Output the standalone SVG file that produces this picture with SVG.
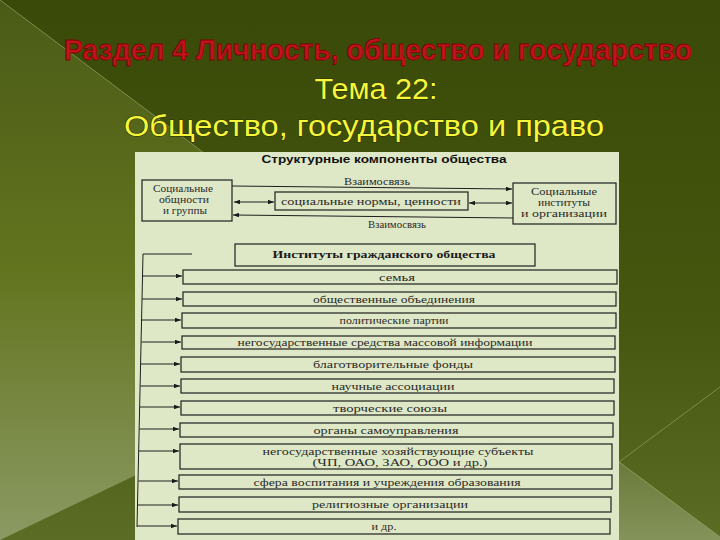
<svg xmlns="http://www.w3.org/2000/svg" width="720" height="540" viewBox="0 0 720 540">
<defs>
<linearGradient id="bg" x1="0" y1="0" x2="0" y2="1">
<stop offset="0" stop-color="#394a09"/>
<stop offset="0.6" stop-color="#46570f"/>
<stop offset="1" stop-color="#5b6c25"/>
</linearGradient>
<linearGradient id="lf" x1="0" y1="0" x2="0" y2="1">
<stop offset="0" stop-color="#4a5b17"/>
<stop offset="0.5" stop-color="#63741f"/>
<stop offset="1" stop-color="#8b9a63"/>
</linearGradient>
<linearGradient id="rb" x1="0" y1="0" x2="0" y2="1">
<stop offset="0" stop-color="#6a7a3a"/>
<stop offset="1" stop-color="#84935a"/>
</linearGradient>
<marker id="ah" viewBox="0 0 8 6" refX="8" refY="3" markerWidth="6" markerHeight="4.5" orient="auto-start-reverse" markerUnits="userSpaceOnUse">
<path d="M0,0 L8,3 L0,6 Z" fill="#1a1a1a"/>
</marker>
<style>
.red{font-family:"Liberation Sans",Arial,sans-serif;font-weight:bold;font-size:26px;fill:#c4121c;stroke:#7a0606;stroke-width:0.7}
.yel{font-family:"Liberation Sans",Arial,sans-serif;font-size:29px;fill:#f6f63a;stroke:#2a3300;stroke-width:1.2;paint-order:stroke}
.box{fill:none;stroke:#1e1e1e;stroke-width:1.2}
.t{font-family:"Liberation Serif","Times New Roman",serif;font-size:10.5px;fill:#2a2a2a;text-anchor:middle}
.tb{font-family:"Liberation Serif","Times New Roman",serif;font-size:10.5px;font-weight:bold;fill:#1a1a1a;text-anchor:middle}
.tx{font-family:"Liberation Serif","Times New Roman",serif;font-size:10px;fill:#2a2a2a;text-anchor:middle}
.ts{font-family:"Liberation Sans",Arial,sans-serif;font-size:11px;font-weight:bold;fill:#111;text-anchor:middle}
.ln{fill:none;stroke:#1e1e1e;stroke-width:1}
</style>
</defs>
<rect x="0" y="0" width="720" height="540" fill="url(#bg)"/>
<polygon points="0,0 440,330 0,540" fill="url(#lf)"/>
<line x1="0" y1="0" x2="440" y2="330" stroke="#7d8d4d" stroke-width="1"/>
<polygon points="619,462 720,537 720,540 619,540" fill="url(#rb)"/>
<line x1="619" y1="462" x2="720" y2="387" stroke="#7d8d4d" stroke-width="1"/>
<line x1="619" y1="462" x2="720" y2="537" stroke="#8d9c60" stroke-width="1"/>

<g id="title">
<text class="red" transform="translate(378,60) scale(1,1.15)" x="0" y="0" text-anchor="middle" textLength="628" lengthAdjust="spacingAndGlyphs">Раздел 4 Личность, общество  и государство</text>
<text class="yel" x="376" y="99" text-anchor="middle" textLength="123" lengthAdjust="spacingAndGlyphs">Тема 22:</text>
<text class="yel" x="364" y="136" text-anchor="middle" textLength="480" lengthAdjust="spacingAndGlyphs">Общество, государство и право</text>
</g>

<rect id="panel" x="135" y="152" width="484" height="388" fill="#dfe8c6"/>

<g id="heading">
<text class="ts" x="384" y="163" textLength="245" lengthAdjust="spacingAndGlyphs">Структурные компоненты общества</text>
</g>

<g id="left-box">
<rect class="box" x="142" y="180" width="90" height="41"/>
<text class="tx" x="183" y="192" textLength="60" lengthAdjust="spacingAndGlyphs">Социальные</text>
<text class="tx" x="184" y="203" textLength="50" lengthAdjust="spacingAndGlyphs">общности</text>
<text class="tx" x="185" y="214" textLength="44" lengthAdjust="spacingAndGlyphs">и группы</text>
</g>
<g id="middle-box">
<rect class="box" x="275" y="192" width="193" height="18"/>
<text class="t" x="371" y="205" textLength="180" lengthAdjust="spacingAndGlyphs">социальные нормы, ценности</text>
</g>
<g id="right-box">
<rect class="box" x="513" y="183" width="103" height="41"/>
<text class="tx" x="564" y="195" textLength="66" lengthAdjust="spacingAndGlyphs">Социальные</text>
<text class="tx" x="564" y="206" textLength="52" lengthAdjust="spacingAndGlyphs">институты</text>
<text class="tx" x="564" y="217" textLength="86" lengthAdjust="spacingAndGlyphs">и организации</text>
</g>
<g id="labels">
<text class="t" x="377" y="185" font-size="9" textLength="66" lengthAdjust="spacingAndGlyphs">Взаимосвязь</text>
<text class="t" x="397" y="228" font-size="9" textLength="58" lengthAdjust="spacingAndGlyphs">Взаимосвязь</text>
</g>

<g id="inst-head">
<rect class="box" x="235" y="244" width="300" height="22"/>
<text class="tb" x="384" y="258" textLength="223" lengthAdjust="spacingAndGlyphs">Институты гражданского общества</text>
</g>

<g id="r1"><rect class="box" x="183" y="270" width="434" height="14"/><text class="t" x="397" y="280.5" textLength="36" lengthAdjust="spacingAndGlyphs">семья</text></g>
<g id="r2"><rect class="box" x="183" y="292" width="433" height="14"/><text class="t" x="394" y="302.5" textLength="162" lengthAdjust="spacingAndGlyphs">общественные объединения</text></g>
<g id="r3"><rect class="box" x="182" y="313" width="434" height="15"/><text class="t" x="394" y="324" textLength="109" lengthAdjust="spacingAndGlyphs">политические партии</text></g>
<g id="r4"><rect class="box" x="182" y="336" width="433" height="13"/><text class="t" x="385" y="346" textLength="295" lengthAdjust="spacingAndGlyphs">негосударственные средства массовой информации</text></g>
<g id="r5"><rect class="box" x="181" y="357" width="434" height="15"/><text class="t" x="393" y="368" textLength="160" lengthAdjust="spacingAndGlyphs">благотворительные фонды</text></g>
<g id="r6"><rect class="box" x="181" y="379" width="433" height="14"/><text class="t" x="393" y="389.5" textLength="123" lengthAdjust="spacingAndGlyphs">научные ассоциации</text></g>
<g id="r7"><rect class="box" x="181" y="401" width="433" height="14"/><text class="t" x="390" y="411.5" textLength="114" lengthAdjust="spacingAndGlyphs">творческие союзы</text></g>
<g id="r8"><rect class="box" x="180" y="423" width="433" height="14"/><text class="t" x="386" y="433.5" textLength="145" lengthAdjust="spacingAndGlyphs">органы самоуправления</text></g>
<g id="r9"><rect class="box" x="180" y="444" width="432" height="25"/><text class="t" x="398" y="455" textLength="271" lengthAdjust="spacingAndGlyphs">негосударственные хозяйствующие субъекты</text><text class="t" x="400" y="466" textLength="175" lengthAdjust="spacingAndGlyphs">(ЧП, ОАО, ЗАО, ООО и др.)</text></g>
<g id="r10"><rect class="box" x="179" y="475" width="433" height="14"/><text class="t" x="387" y="485.5" textLength="267" lengthAdjust="spacingAndGlyphs">сфера воспитания и учреждения образования</text></g>
<g id="r11"><rect class="box" x="179" y="497" width="432" height="15"/><text class="t" x="390" y="508" textLength="156" lengthAdjust="spacingAndGlyphs">религиозные организации</text></g>
<g id="r12"><rect class="box" x="178" y="519" width="432" height="15"/><text class="t" x="384" y="530" textLength="25" lengthAdjust="spacingAndGlyphs">и др.</text></g>

<g id="connectors" class="ln">
<line x1="232" y1="186" x2="512" y2="189" marker-end="url(#ah)"/>
<line x1="234" y1="202" x2="274" y2="202" marker-start="url(#ah)" marker-end="url(#ah)"/>
<line x1="469" y1="203" x2="512" y2="203" marker-start="url(#ah)" marker-end="url(#ah)"/>
<line x1="513" y1="218" x2="233" y2="215" marker-end="url(#ah)"/>
<polyline points="192,254 143,254 137,527"/>
<line x1="142.5" y1="276" x2="182" y2="276" marker-end="url(#ah)"/>
<line x1="142" y1="299" x2="182" y2="299" marker-end="url(#ah)"/>
<line x1="142" y1="320" x2="181" y2="320" marker-end="url(#ah)"/>
<line x1="141.5" y1="342" x2="181" y2="342" marker-end="url(#ah)"/>
<line x1="141" y1="364" x2="180" y2="364" marker-end="url(#ah)"/>
<line x1="140.5" y1="386" x2="180" y2="386" marker-end="url(#ah)"/>
<line x1="140" y1="407" x2="180" y2="407" marker-end="url(#ah)"/>
<line x1="139.5" y1="429" x2="179" y2="429" marker-end="url(#ah)"/>
<line x1="139" y1="451" x2="179" y2="451" marker-end="url(#ah)"/>
<line x1="138.5" y1="481" x2="178" y2="481" marker-end="url(#ah)"/>
<line x1="138" y1="505" x2="178" y2="505" marker-end="url(#ah)"/>
<line x1="137" y1="526" x2="177" y2="526" marker-end="url(#ah)"/>
</g>
</svg>
